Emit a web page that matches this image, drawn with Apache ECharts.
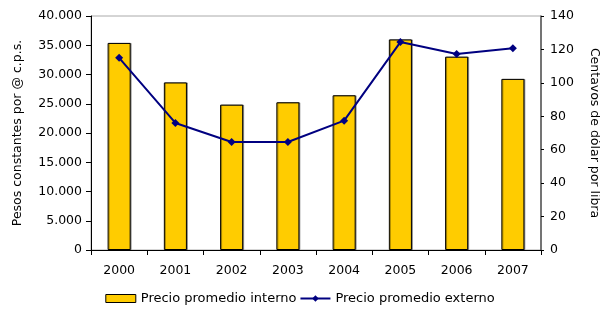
<!DOCTYPE html>
<html><head><meta charset="utf-8">
<script src="https://cdn.jsdelivr.net/npm/echarts@6/dist/echarts.min.js"></script>
<style>html,body{margin:0;padding:0;background:#fff}#c{width:600px;height:309px}</style>
</head><body><div id="c"></div>
<script>
const years = ['2000','2001','2002','2003','2004','2005','2006','2007'];
const precioInterno = [35400, 28650, 24850, 25250, 26450, 36000, 33050, 29250];
const precioExterno = [115, 76, 64.6, 64.6, 77.4, 124.4, 117.3, 120.7];
const leftTicks = {min: 0, max: 40000, interval: 5000};
const rightTicks = {min: 0, max: 140, interval: 20};

const font = 'DejaVu Sans';
const chart = echarts.init(document.getElementById('c'), null, {renderer: 'canvas'});
chart.setOption({
  animation: false,
  textStyle: {fontFamily: font},
  grid: {left: 91, right: 59, top: 16, bottom: 59, show: true, borderColor: '#aaa', borderWidth: 1,
         containLabel: false, outerBoundsMode: 'none'},
  legend: {
    top: 290, left: 'center', itemGap: 3, itemWidth: 30, itemHeight: 8, padding: 2,
    textStyle: {fontFamily: font, fontSize: 13, color: '#000'},
    data: [
      {name: 'Precio promedio interno', icon: 'rect', itemStyle: {color: '#FFCC00', borderColor: '#000', borderWidth: 1}},
      {name: 'Precio promedio externo'}
    ]
  },
  xAxis: {
    type: 'category', data: years,
    axisLine: {lineStyle: {color: '#000', width: 1}},
    axisTick: {show: true, inside: false, length: 5, lineStyle: {color: '#000'}},
    axisLabel: {color: '#000', fontSize: 12.5, fontFamily: font, margin: 14}
  },
  yAxis: [
    {
      type: 'value', min: leftTicks.min, max: leftTicks.max, interval: leftTicks.interval,
      name: 'Pesos constantes por @ c.p.s.', nameLocation: 'middle', nameGap: 67, nameRotate: 90,
      nameTextStyle: {color: '#000', fontSize: 12.5, fontFamily: font},
      axisLine: {show: true, lineStyle: {color: '#000'}},
      axisTick: {show: true, length: 5, lineStyle: {color: '#000'}},
      splitLine: {show: false},
      axisLabel: {color: '#000', fontSize: 12.5, fontFamily: font, margin: 9,
        formatter: v => v === 0 ? '0' : (v/1000).toFixed(3)}
    },
    {
      type: 'value', min: rightTicks.min, max: rightTicks.max, interval: rightTicks.interval,
      position: 'right',
      name: 'Centavos de dólar por libra', nameLocation: 'middle', nameGap: 47, nameRotate: -90,
      nameTextStyle: {color: '#000', fontSize: 12.5, fontFamily: font},
      axisLine: {show: true, lineStyle: {color: '#555', width: 1.5}},
      axisTick: {show: true, length: 3, inside: false, lineStyle: {color: '#000'}},
      splitLine: {show: false},
      axisLabel: {color: '#000', fontSize: 12.5, fontFamily: font, margin: 9}
    }
  ],
  series: [
    {
      name: 'Precio promedio interno', type: 'bar', yAxisIndex: 0, data: precioInterno,
      barWidth: '41%',
      itemStyle: {color: '#FFCC00', borderColor: '#000', borderWidth: 1, shadowColor: 'rgba(0,0,0,0.35)', shadowOffsetX: 1, shadowOffsetY: 0, shadowBlur: 0}
    },
    {
      name: 'Precio promedio externo', type: 'line', yAxisIndex: 1, data: precioExterno,
      symbol: 'diamond', symbolSize: 8,
      lineStyle: {color: '#000080', width: 2},
      itemStyle: {color: '#000080'}
    }
  ]
});
</script></body></html>
